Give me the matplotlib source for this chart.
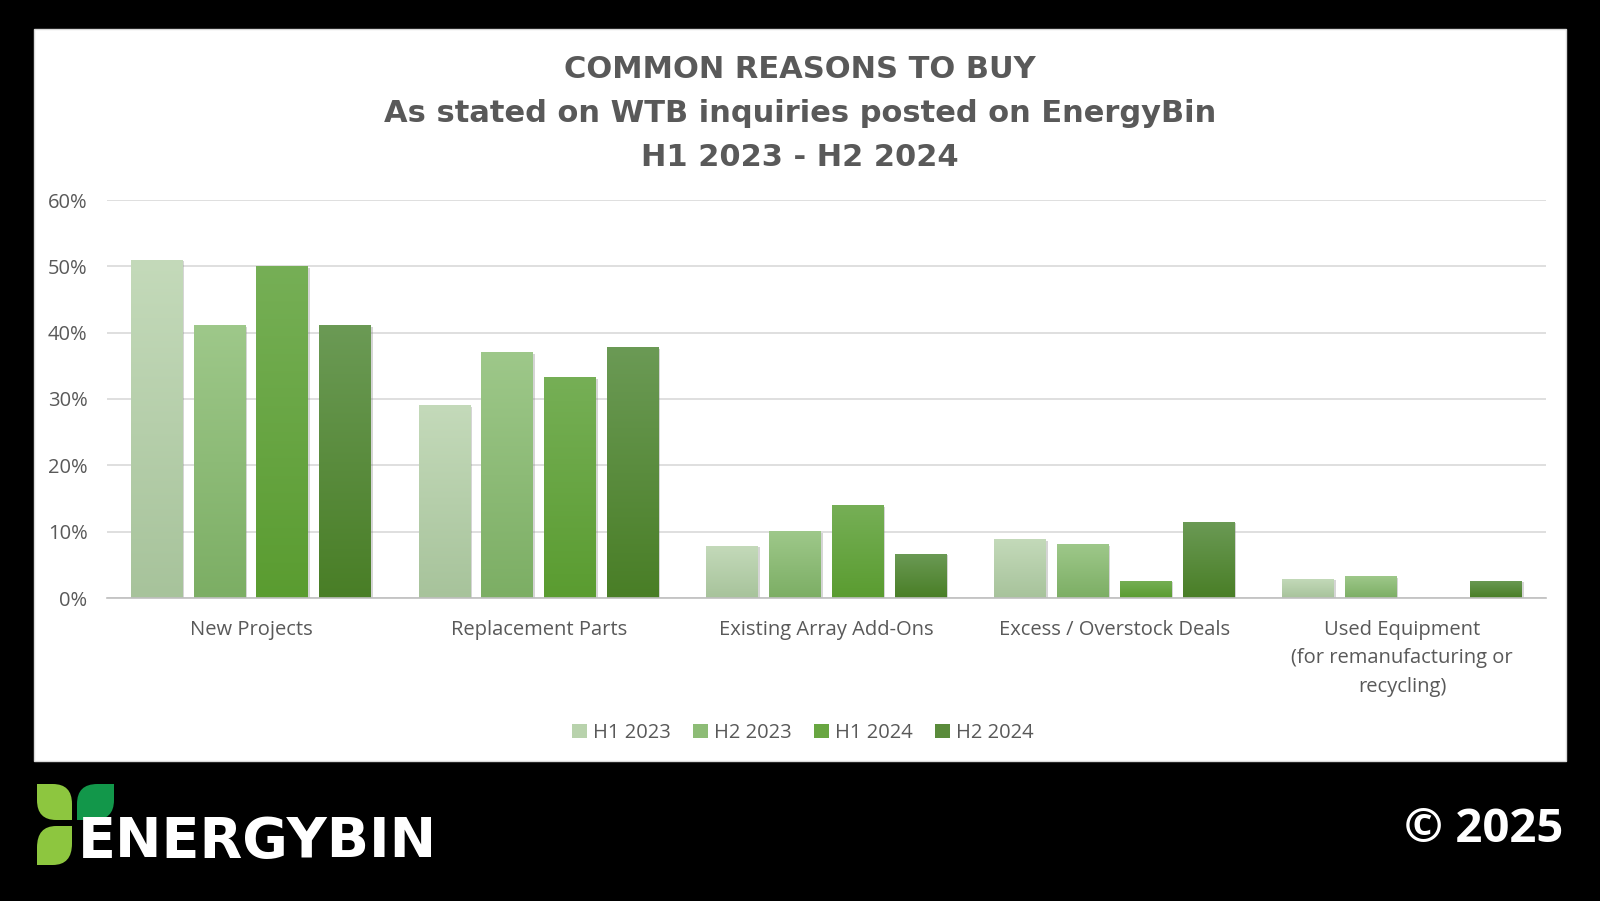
import numpy as np
import matplotlib
matplotlib.use("Agg")
import matplotlib.pyplot as plt
from matplotlib.patches import Rectangle, Patch, PathPatch
from matplotlib.path import Path
from matplotlib.colors import LinearSegmentedColormap
import matplotlib.patheffects as pe

# ---------------- data ----------------
categories = ["New Projects", "Replacement Parts", "Existing Array Add-Ons",
              "Excess / Overstock Deals",
              "Used Equipment\n(for remanufacturing or\nrecycling)"]
series_names = ["H1 2023", "H2 2023", "H1 2024", "H2 2024"]
h1_2023 = [0.51, 0.291, 0.079, 0.089, 0.029]
h2_2023 = [0.411, 0.371, 0.101, 0.081, 0.033]
h1_2024 = [0.50, 0.333, 0.140, 0.026, 0.0]
h2_2024 = [0.411, 0.378, 0.067, 0.115, 0.026]
yticks = [0, 0.1, 0.2, 0.3, 0.4, 0.5, 0.6]
ytick_labels = ["0%", "10%", "20%", "30%", "40%", "50%", "60%"]
title_lines = ["COMMON REASONS TO BUY",
               "As stated on WTB inquiries posted on EnergyBin",
               "H1 2023 - H2 2024"]

series = [h1_2023, h2_2023, h1_2024, h2_2024]
# (top colour, bottom colour) gradients
grad_colors = [("#C4DABA", "#A7C39B"),
               ("#9EC88A", "#7CAE64"),
               ("#76AF56", "#5A9C30"),
               ("#6B9A55", "#497E26")]
legend_colors = ["#B8D2AC", "#8DBC76", "#68A641", "#5A8B3B"]

TEXT = "#595959"
W, H = 1600, 901
fig = plt.figure(figsize=(W / 100, H / 100), dpi=100, facecolor="black")

# white panel
fig.patches.append(Rectangle((34 / W, 1 - 761 / H), (1566 - 34) / W, (761 - 29) / H,
                             transform=fig.transFigure, facecolor="white",
                             edgecolor="#D9D9D9", linewidth=1, zorder=-5))

ax = fig.add_axes([107 / W, 1 - 598 / H, (1546 - 107) / W, (598 - 200) / H])
ax.set_facecolor("none")
ax.set_zorder(2)

n = len(series)
bw = 0.18
pitch = 0.218
x = np.arange(len(categories))
for i, (vals, (ctop, cbot)) in enumerate(zip(series, grad_colors)):
    offs = (i - (n - 1) / 2) * pitch
    bars = ax.bar(x + offs, vals, width=bw, color=cbot, zorder=3,
                  linewidth=0)
    cmap = LinearSegmentedColormap.from_list(f"g{i}", [cbot, ctop])
    grad = np.linspace(0, 1, 256).reshape(-1, 1)
    for b in bars:
        h = b.get_height()
        if h <= 0:
            continue
        b.set_path_effects([pe.SimplePatchShadow(offset=(1.2, -1.2), shadow_rgbFace="#888888", alpha=0.35),
                            pe.Normal()])
        x0 = b.get_x()
        im = ax.imshow(grad, extent=[x0, x0 + b.get_width(), 0, h], origin="lower",
                       aspect="auto", cmap=cmap, zorder=4, interpolation="bilinear")
        im.set_clip_path(b)

ax.set_xlim(-0.5, len(categories) - 0.5)
ax.set_ylim(0, 0.6)
ax.set_yticks(yticks)
ax.set_yticklabels(ytick_labels)
ax.grid(axis="y", color="#D9D9D9", linewidth=1.2, zorder=0)
ax.set_axisbelow(True)
for s in ["top", "right", "left"]:
    ax.spines[s].set_visible(False)
ax.spines["bottom"].set_color("#BFBFBF")
ax.spines["bottom"].set_linewidth(1.2)
ax.spines["bottom"].set_zorder(5)
ax.set_xticks(x)
ax.set_xticklabels(categories, linespacing=1.55)
ax.tick_params(axis="both", length=0, labelcolor=TEXT, labelsize=14.5)
ax.tick_params(axis="y", pad=14)
ax.tick_params(axis="x", pad=16)
for lab in ax.get_xticklabels() + ax.get_yticklabels():
    lab.set_fontfamily("Open Sans")

# titles
for txt, yy in zip(title_lines, [69, 113, 157]):
    fig.text(800 / W, 1 - yy / H, txt, ha="center", va="center", fontsize=22,
             fontweight="bold", color=TEXT, family="DejaVu Sans")

# legend
handles = [Patch(facecolor=c, edgecolor="none", label=nm)
           for c, nm in zip(legend_colors, series_names)]
leg = fig.legend(handles=handles, loc="center", bbox_to_anchor=(803 / W, 1 - 733 / H),
                 ncol=4, frameon=False, handlelength=0.75, handleheight=0.75,
                 handletextpad=0.3, columnspacing=1.1,
                 prop={"family": "Open Sans", "size": 14.5})
for t in leg.get_texts():
    t.set_color(TEXT)

# logo leaves
def leaf(x0, y0, x1, y1, sharp):
    # pixel coords (top-left origin); sharp corners: "TLBR" or "TRBL"
    r = 0.55
    X0, X1 = x0 / W, x1 / W
    Y0, Y1 = 1 - y0 / H, 1 - y1 / H  # Y0 top, Y1 bottom
    w, h = X1 - X0, Y0 - Y1
    if sharp == "TLBR":
        verts = [(X0, Y0), (X1 - r * w, Y0), (X1, Y0), (X1, Y0 - r * h), (X1, Y1),
                 (X0 + r * w, Y1), (X0, Y1), (X0, Y1 + r * h), (X0, Y0)]
    else:
        verts = [(X1, Y0), (X1, Y1 + r * h), (X1, Y1), (X1 - r * w, Y1), (X0, Y1),
                 (X0, Y0 - r * h), (X0, Y0), (X0 + r * w, Y0), (X1, Y0)]
    codes = [Path.MOVETO, Path.LINETO, Path.CURVE3, Path.CURVE3, Path.LINETO,
             Path.LINETO, Path.CURVE3, Path.CURVE3, Path.CLOSEPOLY]
    return Path(verts, codes)

for (x0, y0, x1, y1, sh, col) in [(37, 784, 72, 820, "TLBR", "#8DC63F"),
                                  (77, 784, 114, 820, "TRBL", "#12974A"),
                                  (37, 826, 72, 865, "TRBL", "#8DC63F")]:
    fig.patches.append(PathPatch(leaf(x0, y0, x1, y1, sh), transform=fig.transFigure,
                                 facecolor=col, edgecolor="none", zorder=2))

fig.text(78 / W, 1 - 842 / H, "ENERGYBIN", ha="left", va="center", fontsize=40,
         fontweight="bold", color="white", family="DejaVu Sans", zorder=3)
fig.text(1563 / W, 1 - 829 / H, "© 2025", ha="right", va="center", fontsize=34,
         fontweight="bold", color="white", family="Open Sans")

fig.savefig("out.png", dpi=100, facecolor="black")
